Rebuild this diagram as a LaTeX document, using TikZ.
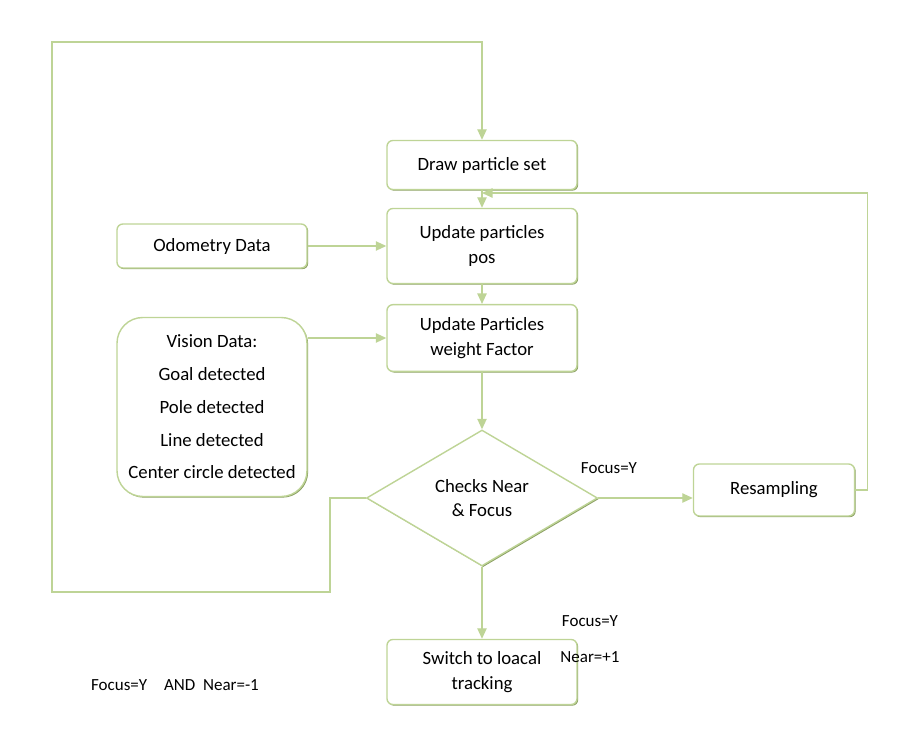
\documentclass[tikz,border=0pt]{standalone}
\usepackage{fontspec}
\setmainfont{Carlito}
\usetikzlibrary{shapes.geometric, arrows.meta, positioning, shadows}
\definecolor{leaf}{RGB}{190,212,150}
\definecolor{leafdark}{RGB}{110,135,60}
\tikzset{
  box/.style = {draw = leaf, line width = 1.2pt, rounded corners = 5pt, fill = white,
    align = center, font = \fontsize{16}{21}\selectfont,
    minimum width = 5.7cm,
    drop shadow = {shadow xshift = 1pt, shadow yshift = -1pt, fill = leafdark, opacity = 0.8}},
  flow/.style = {draw = leaf, line width = 1.2pt, -{Triangle[length=9pt,width=8pt]}},
  lbl/.style = {font = \fontsize{14.5}{17}\selectfont},
}
\begin{document}
\begin{tikzpicture}[x=0.03cm, y=-0.03cm]
\useasboundingbox (0,0) rectangle (914,752);

        % boxes
        \node (draw) [box, minimum height = 1.47cm] at (482,165) {Draw particle set};
        \node (pos) [box, minimum height = 2.25cm] at (482,246) {Update particles\\pos};
        \node (odo) [box, minimum height = 1.32cm] at (212,246) {Odometry Data};
        \node (vis) [box, rounded corners = 22pt, minimum height = 5.37cm] at (212,407)
        {Vision Data:\\[7pt] Goal detected\\[7pt] Pole detected\\[7pt] Line detected\\[7pt] Center circle detected};
        \node (wgt) [box, minimum height = 2.0cm] at (482,338) {Update Particles\\weight Factor};
        \node (chk) [diamond, draw = leaf, line width = 1.2pt, fill = white, aspect = 1.7,
          inner sep = 0pt, minimum width = 6.93cm, minimum height = 4.08cm, align = center,
          font = \fontsize{16}{21}\selectfont,
          drop shadow = {shadow xshift = 1pt, shadow yshift = -1pt, fill = leafdark, opacity = 0.8}]
          at (482,498) {Checks Near\\\& Focus};
        \node (res) [box, minimum width = 4.83cm, minimum height = 1.56cm] at (774,490) {Resampling};
        \node (sw) [box, minimum height = 1.95cm] at (482,672) {Switch to loacal\\tracking};

        \coordinate (back) at (482,193);

        % connectors
        \draw [flow] (draw) -- (pos);
        \draw [flow] (odo) -- (pos);
        \draw [flow] (vis.east |- wgt.west) -- (wgt.west);
        \draw [flow] (pos) -- (wgt);
        \draw [flow] (wgt) -- (chk);
        \draw [flow] (chk.east) -- (res.west |- chk.east);
        \draw [flow] (chk) -- (sw);
        \draw [flow] (res.east) -- ++(12,0) |- (back);
        \draw [flow] (chk.west) -- (330,498) -- (330,592) -- (52,592) -- (52,42) -| (draw.north);

        % labels
        \node [lbl] at (609,468) {Focus=Y};
        \node [lbl] at (590,621) {Focus=Y};
        \node [lbl] at (590,657) {Near=+1};
        \node [lbl] at (175,685) {Focus=Y\quad AND\ \ Near=-1};
\end{tikzpicture}
\end{document}
